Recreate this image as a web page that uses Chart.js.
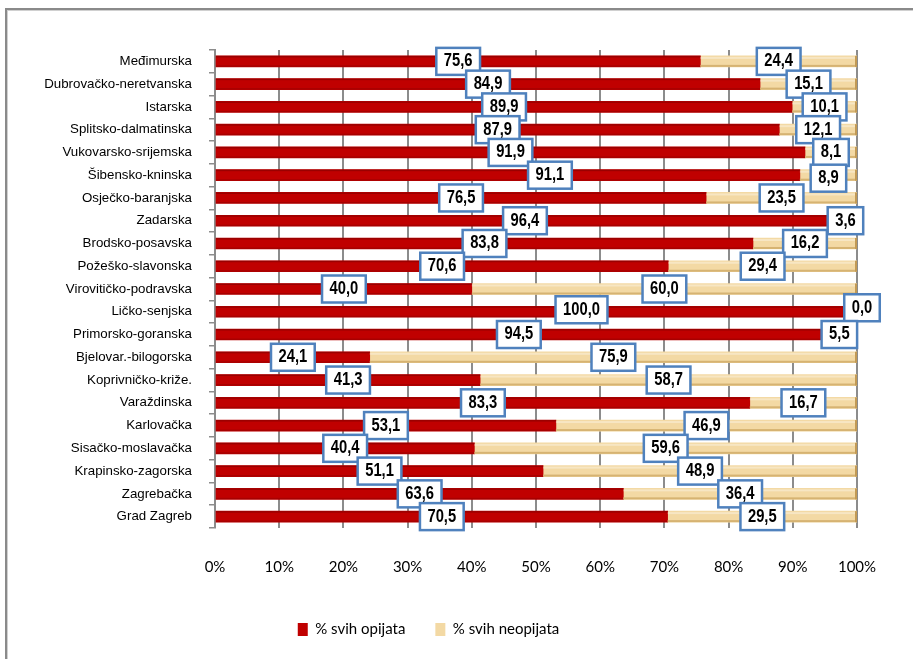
<!DOCTYPE html>
<html>
<head>
<meta charset="utf-8">
<script src="https://cdn.jsdelivr.net/npm/chart.js@4.4.1/dist/chart.umd.min.js"></script>
<style>
  html, body { margin: 0; padding: 0; background: #fff; overflow: hidden; }
  #wrap { position: relative; width: 913px; height: 659px; }
  #c { position: absolute; left: 0; top: 0; }
  #frame {
    position: absolute; left: 5px; top: 8px; width: 1000px; height: 1000px;
    border: 2px solid #8a8a8a; box-shadow: inset 1px 1px 0 #d0d0d0;
    pointer-events: none;
  }
</style>
</head>
<body>
<div id="wrap">
  <canvas id="c" width="913" height="659"></canvas>
  <div id="frame"></div>
</div>
<script>
// Counties, top to bottom
const zupanije = [
  'Međimurska', 'Dubrovačko-neretvanska', 'Istarska', 'Splitsko-dalmatinska',
  'Vukovarsko-srijemska', 'Šibensko-kninska', 'Osječko-baranjska', 'Zadarska',
  'Brodsko-posavska', 'Požeško-slavonska', 'Virovitičko-podravska', 'Ličko-senjska',
  'Primorsko-goranska', 'Bjelovar.-bilogorska', 'Koprivničko-križe.', 'Varaždinska',
  'Karlovačka', 'Sisačko-moslavačka', 'Krapinsko-zagorska', 'Zagrebačka', 'Grad Zagreb'
];

// Share of all opiate cases (%)
const opijati = [
  75.6, 84.9, 89.9, 87.9, 91.9, 91.1, 76.5, 96.4, 83.8, 70.6, 40.0,
  100.0, 94.5, 24.1, 41.3, 83.3, 53.1, 40.4, 51.1, 63.6, 70.5
];

// Share of all non-opiate cases (%)
const neopijati = [
  24.4, 15.1, 10.1, 12.1, 8.1, 8.9, 23.5, 3.6, 16.2, 29.4, 60.0,
  0.0, 5.5, 75.9, 58.7, 16.7, 46.9, 59.6, 48.9, 36.4, 29.5
];

// Percentage axis tick labels
const postoci = ['0%', '10%', '20%', '30%', '40%', '50%', '60%', '70%', '80%', '90%', '100%'];

const serije = ['% svih opijata', '% svih neopijata'];

// Light/dark edges give the bars a rounded, bevelled look
const barShading = {
  id: 'barShading',
  afterDatasetsDraw(chart) {
    const ctx = chart.ctx;
    ctx.save();
    chart.data.datasets.forEach((ds, di) => {
      const meta = chart.getDatasetMeta(di);
      meta.data.forEach((bar) => {
        const x0 = Math.min(bar.x, bar.base), x1 = Math.max(bar.x, bar.base);
        const w = x1 - x0;
        if (w <= 0) return;
        const top = bar.y - bar.height / 2, h = bar.height;
        if (di === 0) {
          ctx.fillStyle = '#9a0000';
          ctx.fillRect(x0, top, w, 1.5);
          ctx.fillStyle = 'rgba(120,0,0,0.35)';
          ctx.fillRect(x0, top + h - 1.5, w, 1.5);
        } else {
          ctx.fillStyle = 'rgba(255,255,255,0.35)';
          ctx.fillRect(x0, top + 1, w, 2);
          ctx.fillStyle = '#d6b372';
          ctx.fillRect(x0, top + h - 2, w, 2);
          ctx.fillStyle = '#c29a55';
          ctx.fillRect(x1 - 2, top, 2, h);
        }
      });
    });
    ctx.restore();
  }
};

// Boxed value labels centred on each segment, set in a narrowed bold face
const valueBoxes = {
  id: 'valueBoxes',
  afterDatasetsDraw(chart, args, opts) {
    const ctx = chart.ctx;
    const sx = opts.narrow;
    ctx.save();
    ctx.font = opts.font;
    ctx.textAlign = 'center';
    ctx.textBaseline = 'middle';
    chart.data.datasets.forEach((ds, di) => {
      const meta = chart.getDatasetMeta(di);
      meta.data.forEach((bar, i) => {
        const txt = ds.data[i].toFixed(1).replace('.', ',');
        const nudge = opts.nudge[di + ':' + i] || [0, 0];
        const cx = (bar.x + bar.base) / 2 + nudge[0];
        const cy = bar.y + nudge[1];
        const w = ctx.measureText(txt).width * sx + 15;
        const h = 27;
        ctx.fillStyle = '#ffffff';
        ctx.fillRect(cx - w / 2, cy - h / 2, w, h);
        ctx.lineWidth = 2.5;
        ctx.strokeStyle = '#4f81bd';
        ctx.strokeRect(cx - w / 2, cy - h / 2, w, h);
        ctx.save();
        ctx.translate(cx, cy);
        ctx.scale(sx, 1);
        ctx.fillStyle = '#000';
        ctx.fillText(txt, 0, 0);
        ctx.restore();
      });
    });
    ctx.restore();
  }
};

new Chart(document.getElementById('c'), {
  type: 'bar',
  data: {
    labels: zupanije,
    datasets: [
      { label: serije[0], data: opijati, backgroundColor: '#c00000', borderWidth: 0 },
      { label: serije[1], data: neopijati, backgroundColor: '#f3d9a4', borderWidth: 0 }
    ]
  },
  options: {
    indexAxis: 'y',
    responsive: false,
    animation: false,
    barThickness: 11,
    layout: { padding: { top: 50, right: 56, bottom: 12, left: 0 } },
    scales: {
      x: {
        stacked: true,
        min: 0,
        max: 100,
        grid: { color: '#8c8c8c', lineWidth: 2, drawTicks: false },
        border: { display: false },
        ticks: {
          stepSize: 10,
          padding: 30,
          color: '#000',
          font: { family: 'Lato, "Open Sans", sans-serif', size: 15 },
          callback: (v) => postoci[Math.round(v / 10)]
        },
        afterFit(scale) { scale.height = 64; }
      },
      y: {
        stacked: true,
        grid: {
          display: true, drawOnChartArea: false, drawTicks: true,
          tickLength: 6, color: '#8c8c8c', lineWidth: 1.5, offset: true
        },
        border: { display: true, color: '#8c8c8c', width: 2 },
        ticks: {
          padding: 17,
          color: '#000',
          font: { family: '"Liberation Sans", Arial, sans-serif', size: 13.3 }
        },
        afterFit(scale) { scale.width = 215; }
      }
    },
    plugins: {
      legend: {
        position: 'bottom',
        labels: {
          boxWidth: 10,
          boxHeight: 13,
          padding: 30,
          color: '#000',
          font: { family: 'Lato, "Open Sans", sans-serif', size: 15 }
        }
      },
      tooltip: { enabled: false },
      valueBoxes: {
        font: 'bold 18px "Liberation Sans", Arial, sans-serif',
        narrow: 0.82,
        nudge: { '0:5': [42, 0], '0:11': [45, -2], '1:11': [5, -4], '1:5': [0, 3] }
      }
    }
  },
  plugins: [barShading, valueBoxes]
});
</script>
</body>
</html>
